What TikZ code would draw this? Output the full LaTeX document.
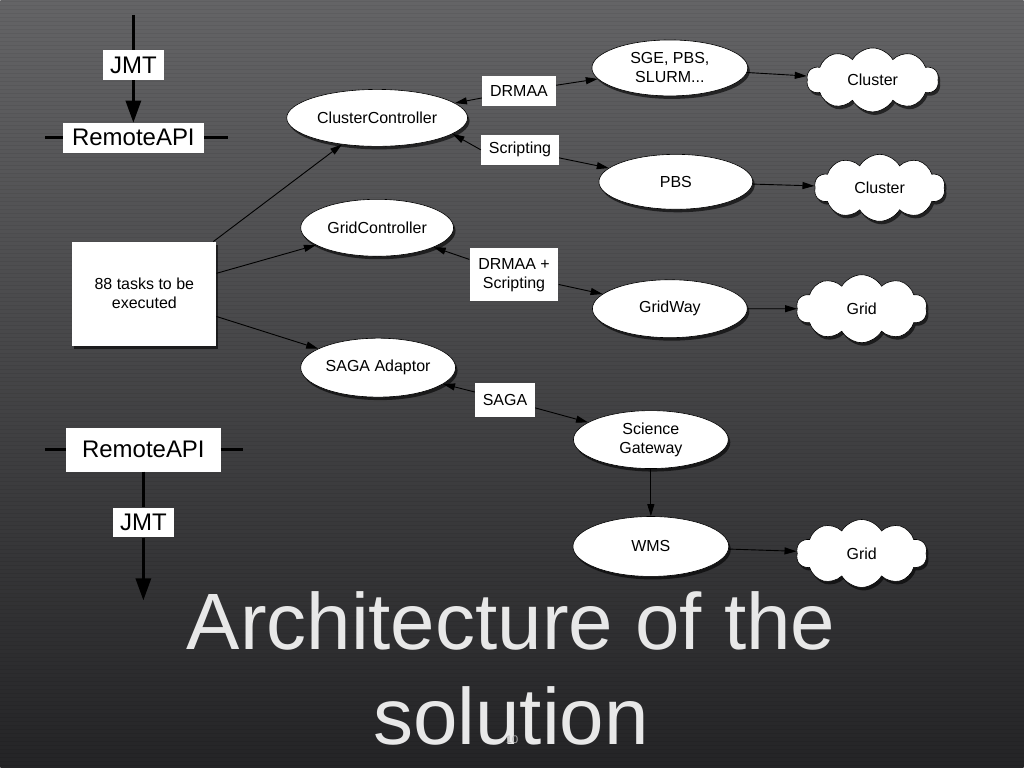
\documentclass[tikz,border=0pt]{standalone}
\usepackage{fontspec}
\setmainfont{Liberation Sans}
\usetikzlibrary{arrows.meta,shapes.geometric,shapes.symbols,shadows}

\definecolor{slatetop}{RGB}{100,100,102}
\definecolor{slatemid}{RGB}{70,70,72}
\definecolor{slatebot}{RGB}{36,36,38}
\definecolor{titlegray}{RGB}{232,232,232}

\begin{document}
\begin{tikzpicture}[
  x=1pt,y=-1pt,
  font=\fontsize{16}{19}\selectfont,
  >=Triangle,
  link/.style={-{Triangle[length=12pt,width=7pt]},line width=0.9pt},
  linkback/.style={{Triangle[length=12pt,width=7pt]}-,line width=0.9pt},
  apiline/.style={line width=3pt},
  apiarrow/.style={-{Triangle[length=22pt,width=15pt]},line width=3pt},
  softshadow/.style={drop shadow={shadow xshift=2pt,shadow yshift=-3pt,opacity=0.6,fill=black}},
  ctrl/.style={ellipse,draw,fill=white,line width=0.6pt,minimum width=153pt,minimum height=57pt,inner sep=0pt,align=center,softshadow},
  backend/.style={ctrl,minimum width=155pt},
  infra/.style={cloud,cloud puffs=10,cloud puff arc=120,cloud ignores aspect,draw,fill=white,line width=0.6pt,minimum width=131pt,minimum height=66pt,inner sep=0pt,softshadow},
  tag/.style={fill=white,inner sep=0pt,align=center},
  apibox/.style={fill=white,inner sep=0pt,font=\fontsize{24}{28}\selectfont}
]
% slide background
\shade[top color=slatetop,middle color=slatemid,bottom color=slatebot] (0,0) rectangle (1024,768);
\foreach \y in {2,6,...,766}
  \draw[black,opacity=0.06,line width=1pt] (0,\y) -- (1024,\y);
\useasboundingbox (0,0) rectangle (1024,768);

% remote API, top
\coordinate (jmtin) at (133,15);
\coordinate (apiL1) at (45,138);
\coordinate (apiR1) at (228,138);
\node[apibox,minimum width=61pt,minimum height=30pt] (jmt1) at (133,65) {JMT};
\node[apibox,minimum width=141pt,minimum height=30pt] (api1) at (133,138) {RemoteAPI};
\draw[apiline] (jmtin) -- (jmt1.north);
\draw[apiarrow] (jmt1.south) -- (api1.north);
\draw[apiline] (apiL1) -- (api1.west);
\draw[apiline] (api1.east) -- (apiR1);

% remote API, bottom
\coordinate (apiL2) at (45,450);
\coordinate (apiR2) at (243,450);
\coordinate (jmtout) at (143,601);
\node[apibox,minimum width=155pt,minimum height=44pt] (api2) at (143,450) {RemoteAPI};
\node[apibox,minimum width=61pt,minimum height=30pt] (jmt2) at (143,523) {JMT};
\draw[apiline] (apiL2) -- (api2.west);
\draw[apiline] (api2.east) -- (apiR2);
\draw[apiline] (api2.south) -- (jmt2.north);
\draw[apiarrow] (jmt2.south) -- (jmtout);

% tasks and controllers
\node[fill=white,minimum width=144pt,minimum height=104pt,inner sep=0pt,align=center,softshadow] (tasks) at (144,294) {88 tasks to be\\executed};
\node[ctrl,minimum width=181pt] (cc) at (377,118) {ClusterController};
\node[ctrl] (gc) at (377,228) {GridController};
\node[ctrl,minimum width=155pt,minimum height=59pt] (sa) at (378,368) {SAGA Adaptor};

% middleware
\node[backend,minimum width=156pt,minimum height=56pt] (sge) at (670,68) {SGE, PBS,\\SLURM...};
\node[backend,minimum width=154pt,minimum height=55pt] (pbs) at (676,182) {PBS};
\node[backend,minimum height=58pt] (gw) at (670,309) {GridWay};
\node[backend,minimum height=58pt] (sg) at (651,440) {Science\\Gateway};
\node[backend,minimum width=156pt,minimum height=60pt] (wms) at (651,547) {WMS};

% resources
\node[infra,minimum width=132pt,minimum height=64pt] (cl1) at (873,80) {Cluster};
\node[infra,minimum height=67pt] (cl2) at (880,188) {Cluster};
\node[infra,minimum height=68pt] (gr1) at (862,309) {Grid};
\node[infra,minimum height=68pt] (gr2) at (862,554) {Grid};

% interface labels
\node[tag,minimum width=74pt,minimum height=30pt] (drmaa) at (519,91) {DRMAA};
\node[tag,minimum width=78pt,minimum height=30pt] (scripting) at (520,150) {Scripting};
\node[tag,minimum width=89pt,minimum height=53pt] (drsc) at (514,275) {DRMAA +\\Scripting};
\node[tag,minimum width=60pt,minimum height=34pt] (saga) at (505,400) {SAGA};

% connectors
\draw[link] (tasks) -- (cc);
\draw[link] (tasks) -- (gc);
\draw[link] (tasks) -- (sa);
\draw[linkback] (cc) -- (drmaa);
\draw[link] (drmaa) -- (sge);
\draw[linkback] (cc.-12) -- (scripting.west);
\draw[link] (scripting) -- (pbs);
\draw[linkback] (gc) -- (drsc);
\draw[link] (drsc) -- (gw);
\draw[linkback] (sa) -- (saga);
\draw[link] (saga) -- (sg);
\draw[link] (sge) -- (cl1);
\draw[link] (pbs) -- (cl2);
\draw[link] (gw) -- (gr1);
\draw[link] (sg) -- (wms);
\draw[link] (wms) -- (gr2);

% title
\node[text=titlegray,font=\fontsize{80}{95}\selectfont,anchor=base,inner sep=0pt] (title1) at (511,650) {Architecture of the};
\node[text=titlegray,font=\fontsize{80}{95}\selectfont,anchor=base,inner sep=0pt] (title2) at (511,745) {solution};
\node[text=gray!60,font=\fontsize{11}{13}\selectfont] (pageno) at (512,740) {10};
\end{tikzpicture}
\end{document}
